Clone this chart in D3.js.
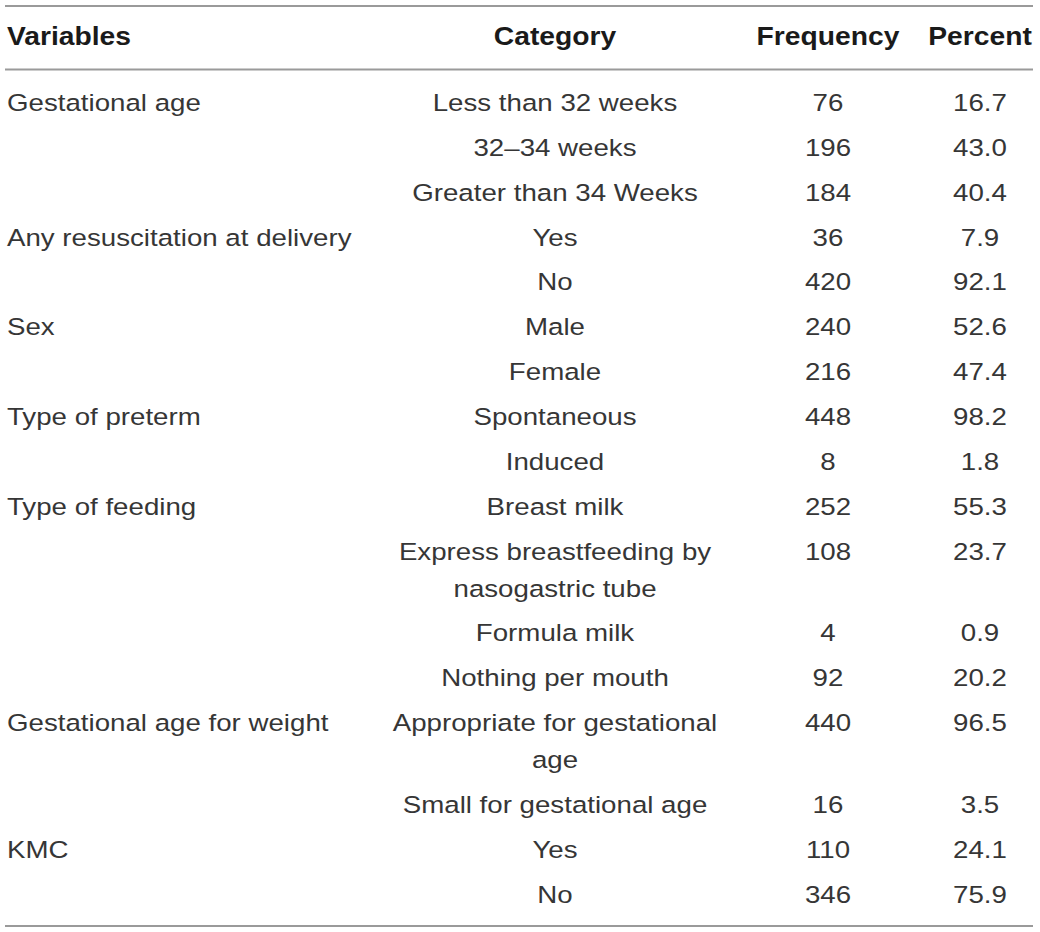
<!DOCTYPE html>
<html>
<head>
<meta charset="utf-8">
<script src="https://cdn.jsdelivr.net/npm/d3@7"></script>
<style>
  body { margin: 0; background: #fff; }
</style>
</head>
<body>
<div id="table"></div>
<script>
  const headers = ["Variables", "Category", "Frequency", "Percent"];

  const variables = ["Gestational age", "Any resuscitation at delivery", "Sex", "Type of preterm",
    "Type of feeding", "Gestational age for weight", "KMC"];
  const groupSizes = [3, 2, 2, 2, 4, 2, 2];

  const categories = ["Less than 32 weeks", "32–34 weeks", "Greater than 34 Weeks", "Yes", "No",
    "Male", "Female", "Spontaneous", "Induced", "Breast milk",
    "Express breastfeeding by|nasogastric tube", "Formula milk", "Nothing per mouth",
    "Appropriate for gestational|age", "Small for gestational age", "Yes", "No"];
  const frequencies = [76, 196, 184, 36, 420, 240, 216, 448, 8, 252, 108, 4, 92, 440, 16, 110, 346];
  const percents = ["16.7", "43.0", "40.4", "7.9", "92.1", "52.6", "47.4", "98.2", "1.8", "55.3",
    "23.7", "0.9", "20.2", "96.5", "3.5", "24.1", "75.9"];

  const W = 1040, H = 932;
  const stretch = 1.13;
  const lineGap = 37;

  const svg = d3.select("#table")
    .append("svg")
    .attr("width", W)
    .attr("height", H);

  // column positions
  const colX = d3.scaleOrdinal()
    .domain(headers)
    .range([7, 555, 828, 980]);
  const colAnchor = d3.scaleOrdinal()
    .domain(headers)
    .range(["start", "middle", "middle", "middle"]);

  // row baselines: regular row step plus extra for wrapped lines
  const rowY = d3.scaleLinear()
    .domain([0, categories.length - 1])
    .range([111, 111 + (categories.length - 1) * 44.85]);

  let extra = 0;
  const rows = categories.map((c, i) => {
    const lines = c.split("|");
    const r = { i, lines, y: rowY(i) + extra * lineGap };
    extra += lines.length - 1;
    return r;
  });

  // variable for first row of each group
  let start = 0;
  const varRows = variables.map((v, k) => {
    const r = { name: v, y: rows[start].y };
    start += groupSizes[k];
    return r;
  });

  // rules
  const rules = [6, 69.5, 926];
  svg.selectAll(".rule")
    .data(rules)
    .enter()
    .append("line")
    .attr("class", "rule")
    .attr("x1", 5)
    .attr("x2", 1033)
    .attr("y1", d => d)
    .attr("y2", d => d)
    .attr("stroke", "#9a9a9a")
    .attr("stroke-width", 2);

  function addText(x, y, txt, anchor, bold) {
    svg.append("text")
      .attr("transform", `translate(${x},${y}) scale(${stretch},1)`)
      .attr("text-anchor", anchor)
      .style("font-family", "'Liberation Sans', Arial, sans-serif")
      .style("font-size", bold ? "25px" : "24.5px")
      .style("font-weight", bold ? "bold" : "normal")
      .style("fill", bold ? "#1a1a1a" : "#363636")
      .text(txt);
  }

  headers.forEach(h => addText(colX(h), 45, h, colAnchor(h), true));

  varRows.forEach(v => addText(colX("Variables"), v.y, v.name, "start", false));

  rows.forEach(r => {
    r.lines.forEach((ln, j) => addText(colX("Category"), r.y + j * lineGap, ln, "middle", false));
    addText(colX("Frequency"), r.y, frequencies[r.i], "middle", false);
    addText(colX("Percent"), r.y, percents[r.i], "middle", false);
  });
</script>
</body>
</html>
